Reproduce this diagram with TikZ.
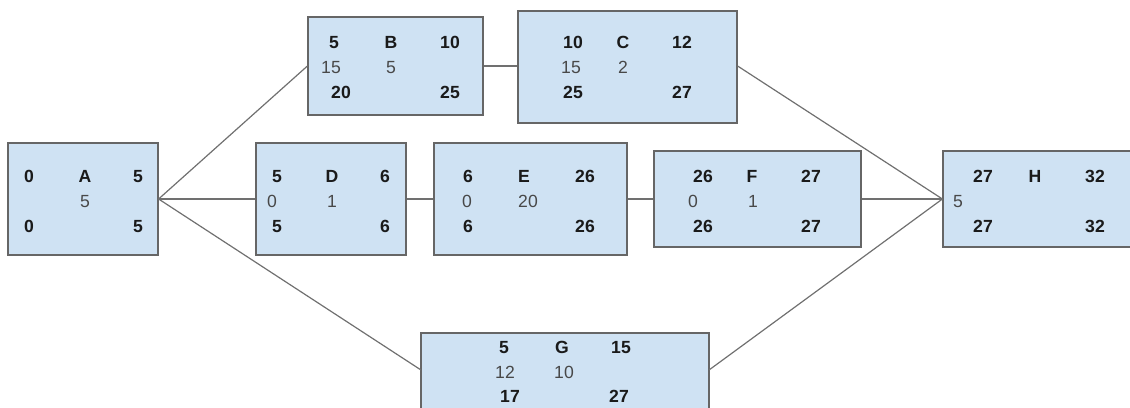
\documentclass[tikz,border=0pt]{standalone}
\usepackage{fontspec}
\setmainfont{Liberation Sans}
\definecolor{boxfill}{HTML}{CFE2F3}
\definecolor{boxline}{HTML}{666666}
\definecolor{conn}{HTML}{707070}
\definecolor{boldtxt}{HTML}{1A1A1A}
\definecolor{graytxt}{HTML}{484848}
\begin{document}
\begin{tikzpicture}[x=0.75pt,y=-0.75pt,
  actbox/.style={draw=boxline,line width=0.9pt,fill=boxfill,rectangle,inner sep=0pt},
  txt/.style={inner sep=0pt,anchor=center,text height=9.45pt,text depth=0pt},
  bt/.style={txt,font=\fontsize{13.2}{15}\selectfont\bfseries,text=boldtxt},
  gt/.style={txt,font=\fontsize{13.2}{15}\selectfont,text=graytxt},
  link/.style={draw=conn,line width=0.9pt}]
\useasboundingbox (0,0) rectangle (1130,407);
\clip (0,0) rectangle (1130,407);
% boxes (pixel corners)
\node[actbox,minimum width=112.5pt,minimum height=84pt] (A) at (83,199) {};
\node[actbox,minimum width=131.25pt,minimum height=73.5pt] (B) at (395.5,66) {};
\node[actbox,minimum width=164.25pt,minimum height=84pt] (C) at (627.5,67) {};
\node[actbox,minimum width=112.5pt,minimum height=84pt] (D) at (331,199) {};
\node[actbox,minimum width=144.75pt,minimum height=84pt] (E) at (530.5,199) {};
\node[actbox,minimum width=155.25pt,minimum height=72pt] (F) at (757.5,199) {};
\node[actbox,minimum width=147.75pt,minimum height=72pt] (H) at (1041.5,199) {};
\node[actbox,minimum width=216pt,minimum height=67.5pt] (G) at (565,378) {};
\coordinate (gw) at (421,370);
\coordinate (ge) at (709,370);
% connectors
\draw[link] (A.east) -- (B.west);
\draw[link] (A.east) -- (D.west);
\draw[link] (A.east) -- (gw);
\draw[link] (B.east) -- (C.west |- B.east);
\draw[link] (D.east) -- (E.west);
\draw[link] (E.east) -- (F.west);
\draw[link] (F.east) -- (H.west);
\draw[link] (C.east |- B.east) -- (H.west);
\draw[link] (ge) -- (H.west);
% A
\node[bt] (a1) at (29,176) {0};
\node[bt] (a2) at (85,176) {A};
\node[bt] (a3) at (138,176) {5};
\node[gt] (a4) at (85,201) {5};
\node[bt] (a5) at (29,226) {0};
\node[bt] (a6) at (138,226) {5};
% B
\node[bt] (b1) at (334,42) {5};
\node[bt] (b2) at (391,42) {B};
\node[bt] (b3) at (450,42) {10};
\node[gt] (b4) at (331,67) {15};
\node[gt] (b5) at (391,67) {5};
\node[bt] (b6) at (341,92) {20};
\node[bt] (b7) at (450,92) {25};
% C
\node[bt] (c1) at (573,42) {10};
\node[bt] (c2) at (623,42) {C};
\node[bt] (c3) at (682,42) {12};
\node[gt] (c4) at (571,67) {15};
\node[gt] (c5) at (623,67) {2};
\node[bt] (c6) at (573,92) {25};
\node[bt] (c7) at (682,92) {27};
% D
\node[bt] (d1) at (277,176) {5};
\node[bt] (d2) at (332,176) {D};
\node[bt] (d3) at (385,176) {6};
\node[gt] (d4) at (272,201) {0};
\node[gt] (d5) at (332,201) {1};
\node[bt] (d6) at (277,226) {5};
\node[bt] (d7) at (385,226) {6};
% E
\node[bt] (e1) at (468,176) {6};
\node[bt] (e2) at (524,176) {E};
\node[bt] (e3) at (585,176) {26};
\node[gt] (e4) at (467,201) {0};
\node[gt] (e5) at (528,201) {20};
\node[bt] (e6) at (468,226) {6};
\node[bt] (e7) at (585,226) {26};
% F
\node[bt] (f1) at (703,176) {26};
\node[bt] (f2) at (752,176) {F};
\node[bt] (f3) at (811,176) {27};
\node[gt] (f4) at (693,201) {0};
\node[gt] (f5) at (753,201) {1};
\node[bt] (f6) at (703,226) {26};
\node[bt] (f7) at (811,226) {27};
% H
\node[bt] (h1) at (983,176) {27};
\node[bt] (h2) at (1035,176) {H};
\node[bt] (h3) at (1095,176) {32};
\node[gt] (h4) at (958,201) {5};
\node[bt] (h6) at (983,226) {27};
\node[bt] (h7) at (1095,226) {32};
% G
\node[bt] (g1) at (504,347) {5};
\node[bt] (g2) at (562,347) {G};
\node[bt] (g3) at (621,347) {15};
\node[gt] (g4) at (505,372) {12};
\node[gt] (g5) at (564,372) {10};
\node[bt] (g6) at (510,396) {17};
\node[bt] (g7) at (619,396) {27};
\end{tikzpicture}
\end{document}
